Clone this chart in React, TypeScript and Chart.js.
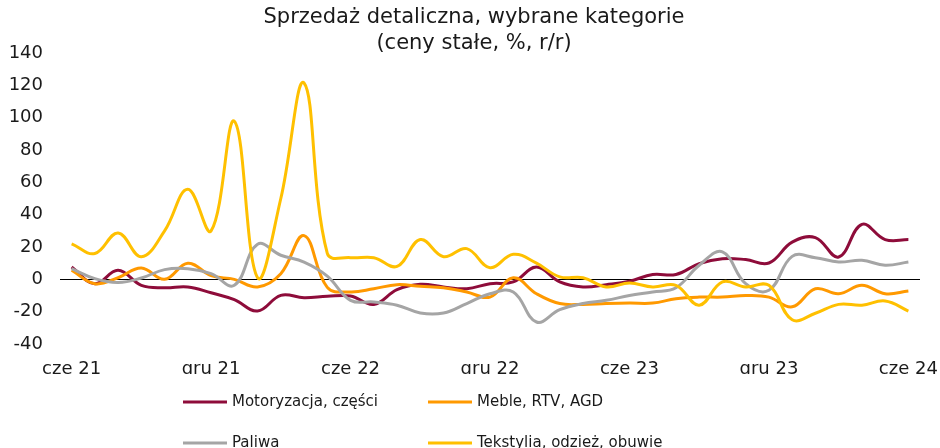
import React, { useEffect, useRef } from 'react';
import { Chart, registerables } from 'chart.js';

Chart.register(...registerables);

const labels = [
  'cze 21', 'lip 21', 'sie 21', 'wrz 21', 'paź 21', 'lis 21', 'gru 21',
  'sty 22', 'lut 22', 'mar 22', 'kwi 22', 'maj 22', 'cze 22', 'lip 22', 'sie 22', 'wrz 22', 'paź 22', 'lis 22', 'gru 22',
  'sty 23', 'lut 23', 'mar 23', 'kwi 23', 'maj 23', 'cze 23', 'lip 23', 'sie 23', 'wrz 23', 'paź 23', 'lis 23', 'gru 23',
  'sty 24', 'lut 24', 'mar 24', 'kwi 24', 'maj 24', 'cze 24',
];

const motoryzacja = [7.6, -2.7, 5.6, -3.7, -5.2, -4.7, -8.3, -12.6, -19.6, -9.9, -11.4, -10.5, -10.3, -15.5, -6.4, -3.1, -4.7, -5.8, -2.7, -1.6, 7.6, -1.6, -4.7, -3.3, -1.2, 3, 3, 9.7, 12.8, 12.2, 10.1, 23, 25.8, 13.8, 34, 24.6, 24.6];
const meble = [5.6, -2.7, 1, 7, 0, 10, 2.3, 0, -4.7, 3.5, 27, -5, -7.8, -5.8, -3.3, -4.3, -5.2, -7.8, -11, 1, -8.9, -15, -15.5, -15, -14.7, -14.7, -12, -11, -11, -10, -11, -17, -5.8, -8.9, -3.7, -8.9, -7.2];
const paliwa = [6.6, 0.4, -2, 0.8, 6, 6.6, 3.5, -3.7, 21.7, 14.9, 10.7, 2, -13, -14, -16, -20.8, -20.8, -15, -8.9, -7.8, -26.4, -18.8, -15, -13, -10, -7.8, -5.2, 8.7, 17, -2.7, -6.8, 14.2, 13.4, 10.7, 11.8, 8.7, 10.7];
const tekstylia = [22, 16, 28.7, 14, 30, 55.7, 30, 97.8, 1, 50, 121.5, 16, 13.4, 13.4, 8, 24.6, 14, 19, 7.2, 15.5, 10, 1.5, 1, -4.7, -2.3, -4.7, -3.7, -16, -1.6, -4.7, -3.7, -25, -21, -15.5, -16, -13.4, -19.6];

const seriesNames = ['Motoryzacja, części', 'Meble, RTV, AGD', 'Paliwa', 'Tekstylia, odzież, obuwie'];
const seriesColors = ['#8E0C3A', '#FF9900', '#A5A5A5', '#FFC000'];
const titleLines = ['Sprzedaż detaliczna, wybrane kategorie', '(ceny stałe, %, r/r)'];

const FONT = '"DejaVu Sans", Verdana, sans-serif';
const TEXT = '#1a1a1a';

const decorPlugin = {
  id: 'decor',
  afterDraw(chart: any) {
    const ctx = chart.ctx as CanvasRenderingContext2D;
    ctx.save();
    ctx.fillStyle = TEXT;
    ctx.font = `21px ${FONT}`;
    ctx.textAlign = 'center';
    ctx.textBaseline = 'middle';
    ctx.fillText(titleLines[0], 474, 18);
    ctx.fillText(titleLines[1], 474, 44);
    const colX = [183, 428];
    const rowY = [402, 443];
    ctx.font = `15px ${FONT}`;
    ctx.textAlign = 'left';
    chart.data.datasets.forEach((ds: any, i: number) => {
      const x = colX[i % 2];
      const y = rowY[Math.floor(i / 2)];
      ctx.strokeStyle = ds.borderColor;
      ctx.lineWidth = 3;
      ctx.beginPath();
      ctx.moveTo(x, y);
      ctx.lineTo(x + 44, y);
      ctx.stroke();
      ctx.fillStyle = TEXT;
      ctx.fillText(ds.label, x + 49, y);
    });
    ctx.restore();
  },
};

export default function App() {
  const ref = useRef<HTMLCanvasElement>(null);
  useEffect(() => {
    document.body.style.margin = '0';
    const values = [motoryzacja, meble, paliwa, tekstylia];
    const chart = new Chart(ref.current as HTMLCanvasElement, {
      type: 'line',
      data: {
        labels,
        datasets: values.map((d, i) => ({
          label: seriesNames[i],
          data: d,
          borderColor: seriesColors[i],
          backgroundColor: seriesColors[i],
          borderWidth: 3,
          pointRadius: 0,
          tension: 0.4,
          fill: false,
          order: 3 - i,
        })),
      },
      options: {
        responsive: false,
        animation: false,
        layout: { padding: { left: 0, right: 20, top: 53, bottom: 74 } },
        plugins: {
          legend: { display: false },
          title: { display: false },
          tooltip: { enabled: false },
        },
        scales: {
          x: {
            offset: true,
            grid: { display: false, drawTicks: false },
            border: { display: false },
            ticks: {
              autoSkip: false,
              maxRotation: 0,
              padding: 15,
              color: TEXT,
              font: { family: FONT, size: 18 },
              callback: (_v: any, i: number) => (i % 6 === 0 ? labels[i] : ''),
            },
            afterFit: (s: any) => { s.height = 30; s.paddingLeft = 0; s.paddingRight = 0; },
          },
          y: {
            min: -40,
            max: 140,
            grid: {
              drawTicks: false,
              lineWidth: 1,
              color: (c: any) => (c.tick && c.tick.value === 0 ? '#000000' : 'rgba(0,0,0,0)'),
            },
            border: { display: false },
            ticks: {
              stepSize: 20,
              padding: 17,
              color: TEXT,
              font: { family: FONT, size: 18 },
            },
            afterFit: (s: any) => { s.width = 60; s.paddingTop = 0; s.paddingBottom = 0; },
          },
        },
      },
      plugins: [decorPlugin],
    });
    return () => chart.destroy();
  }, []);
  return <canvas ref={ref} width={940} height={448} style={{ display: 'block' }} />;
}
